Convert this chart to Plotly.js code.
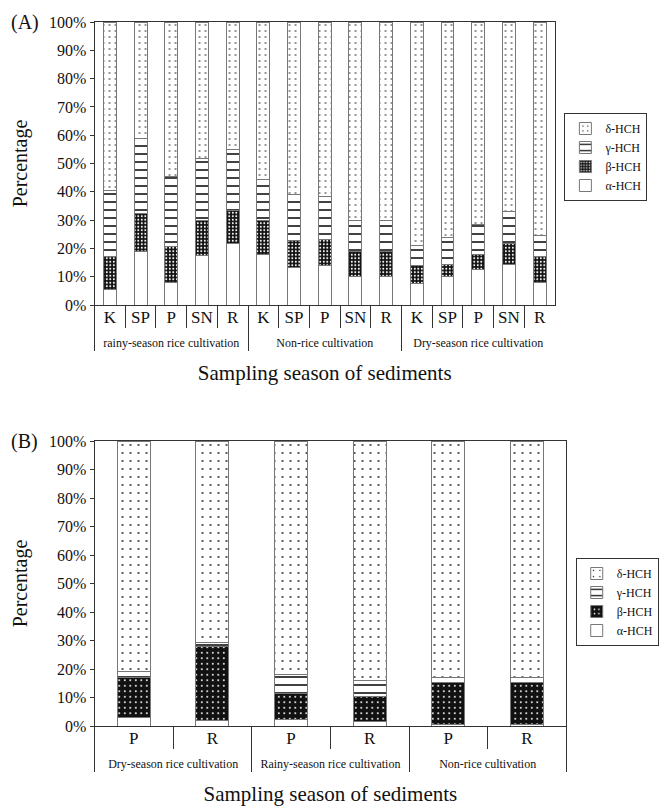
<!DOCTYPE html>
<html>
<head>
<meta charset="utf-8">
<script src="https://cdn.plot.ly/plotly-3.0.1.min.js"></script>
<style>html,body{margin:0;padding:0;background:#fff;}#chart{width:659px;height:808px;}</style>
</head>
<body>
<div id="chart"></div>
<script>
// ---------- Panel A data ----------
var groupsA = ['rainy-season rice cultivation', 'Non-rice cultivation', 'Dry-season rice cultivation'];
var sitesA = ['K', 'SP', 'P', 'SN', 'R'];
var alphaA = [5.5, 18.8, 8.1, 17.4, 21.8, 18.0, 13.2, 13.8, 10.0, 10.0, 7.7, 10.0, 12.4, 14.4, 7.9];
var betaA  = [11.8, 13.6, 12.5, 12.4, 11.5, 11.8, 9.5, 9.4, 8.8, 8.8, 6.2, 4.4, 5.6, 7.2, 9.2];
var gammaA = [23.1, 26.3, 24.7, 22.1, 21.5, 14.4, 16.3, 15.1, 11.0, 11.0, 7.1, 9.5, 10.6, 11.4, 7.4];
var deltaA = [59.6, 41.3, 54.7, 48.1, 45.2, 55.8, 61.0, 61.7, 70.2, 70.2, 79.0, 76.1, 71.4, 67.0, 75.5];

// ---------- Panel B data ----------
var groupsB = ['Dry-season rice cultivation', 'Rainy-season rice cultivation', 'Non-rice cultivation'];
var sitesB = ['P', 'R'];
var alphaB = [3.0, 1.9, 2.3, 1.5, 0.4, 0.4];
var betaB  = [14.1, 25.9, 9.2, 9.0, 14.9, 14.9];
var gammaB = [2.2, 1.4, 6.4, 5.3, 1.8, 1.8];
var deltaB = [80.7, 70.8, 82.1, 84.2, 82.9, 82.9];

var seriesNames = ['α-HCH', 'β-HCH', 'γ-HCH', 'δ-HCH'];

function grp(g) { return '<span style="font-size:12px">' + g + '</span>'; }
function buildX(groups, sites) {
  var g = [], s = [];
  groups.forEach(function (gr) { sites.forEach(function (st) { g.push(grp(gr)); s.push(st); }); });
  return [g, s];
}
var xA = buildX(groupsA, sitesA);
var xB = buildX(groupsB, sitesB);

var lineStyle = {color: '#777', width: 1};
var patA = [
  {shape: '', bgcolor: '#fff', fgcolor: '#fff'},
  {shape: '.', bgcolor: '#111', fgcolor: '#fff', size: 3.5, solidity: 0.25},
  {shape: '-', bgcolor: '#fff', fgcolor: '#111', size: 8, solidity: 0.2},
  {shape: '.', bgcolor: '#fff', fgcolor: '#111', size: 6, solidity: 0.06}
];
var patB = [
  {shape: '', bgcolor: '#fff', fgcolor: '#fff'},
  {shape: '.', bgcolor: '#111', fgcolor: '#fff', size: 5.5, solidity: 0.1},
  {shape: '-', bgcolor: '#fff', fgcolor: '#111', size: 8, solidity: 0.2},
  {shape: '.', bgcolor: '#fff', fgcolor: '#111', size: 8, solidity: 0.04}
];

var valsA = [alphaA, betaA, gammaA, deltaA];
var valsB = [alphaB, betaB, gammaB, deltaB];
var traces = [];
valsA.forEach(function (v, i) {
  traces.push({
    type: 'bar', x: xA, y: v, name: seriesNames[i], xaxis: 'x', yaxis: 'y', legend: 'legend',
    marker: {color: '#fff', line: lineStyle, pattern: patA[i]},
    hoverinfo: 'y+name'
  });
});
valsB.forEach(function (v, i) {
  traces.push({
    type: 'bar', x: xB, y: v, name: seriesNames[i], xaxis: 'x2', yaxis: 'y2', legend: 'legend2',
    marker: {color: '#fff', line: lineStyle, pattern: patB[i]},
    hoverinfo: 'y+name'
  });
});

var W = 659, H = 808;
var axCol = '#333';
var serif = 'Liberation Serif, DejaVu Serif, serif';
function xaxisDef(domain, anchor) {
  return {
    domain: domain, anchor: anchor, type: 'multicategory',
    showline: true, mirror: true, linecolor: axCol, linewidth: 1,
    ticks: 'outside', tickson: 'boundaries', ticklen: 22, tickcolor: axCol,
    ticklabelstandoff: -3, tickangle: 0,
    showdividers: true, dividercolor: axCol, dividerwidth: 1,
    tickfont: {family: serif, size: 17, color: '#111'},
    showgrid: false,
    title: {text: 'Sampling season of sediments', font: {family: serif, size: 21, color: '#111'}, standoff: 15}
  };
}
function yaxisDef(domain, anchor) {
  return {
    domain: domain, anchor: anchor, range: [0, 100], dtick: 10, ticksuffix: '%',
    showline: true, mirror: true, linecolor: axCol, linewidth: 1,
    ticks: 'outside', ticklen: 4, tickcolor: axCol,
    showgrid: false, zeroline: false,
    tickfont: {family: serif, size: 16, color: '#111'},
    title: {text: 'Percentage', font: {family: serif, size: 20, color: '#111'}, standoff: 16}
  };
}
function legendDef(x, y) {
  return {
    x: x, y: y, xanchor: 'left', yanchor: 'top',
    traceorder: 'reversed', bordercolor: '#333', borderwidth: 1, bgcolor: '#fff',
    font: {family: serif, size: 12, color: '#111'}, itemwidth: 30
  };
}

var layout = {
  width: W, height: H,
  margin: {l: 0, r: 0, t: 0, b: 0},
  paper_bgcolor: '#fff', plot_bgcolor: '#fff',
  font: {family: serif, color: '#111'},
  barmode: 'stack', bargap: 0.58,
  xaxis: xaxisDef([100 / W, 587 / W], 'y'),
  yaxis: yaxisDef([1 - 305 / H, 1 - 22 / H], 'x'),
  xaxis2: xaxisDef([100 / W, 599 / W], 'y2'),
  yaxis2: yaxisDef([1 - 726 / H, 1 - 441 / H], 'x2'),
  legend: legendDef(597 / W, 1 - 113 / H),
  legend2: legendDef(609 / W, 1 - 558 / H),
  annotations: [
    {text: '(A)', xref: 'paper', yref: 'paper', x: 9 / W, y: 1 - 22 / H, xanchor: 'left', yanchor: 'middle', showarrow: false, font: {family: serif, size: 20, color: '#111'}},
    {text: '(B)', xref: 'paper', yref: 'paper', x: 9 / W, y: 1 - 441 / H, xanchor: 'left', yanchor: 'middle', showarrow: false, font: {family: serif, size: 20, color: '#111'}}
  ]
};

Plotly.newPlot('chart', traces, layout, {displayModeBar: false, staticPlot: true});
</script>
</body>
</html>
